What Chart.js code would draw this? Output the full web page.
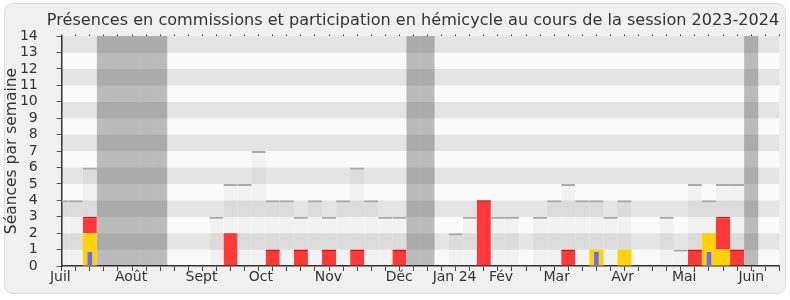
<!DOCTYPE html>
<html>
<head>
<meta charset="utf-8">
<script src="https://cdn.jsdelivr.net/npm/chart.js@4.4.0/dist/chart.umd.min.js"></script>
<style>
body{margin:0;background:#fff;}
#wrap{width:790px;height:300px;}
</style>
</head>
<body>
<div id="wrap"><canvas id="c" width="790" height="300"></canvas></div>
<script>
var titre = 'Présences en commissions et participation en hémicycle au cours de la session 2023-2024';
var titreY = 'Séances par semaine';

// une valeur par semaine, de début juillet 2023 (semaine 0) à fin juin 2024 (semaine 51)
var hemicycle  = [4,4,6,0,0,0,0,0,0,0,0,3,5,5,7,4,4,3,4,3,4,6,4,3,3,0,0,0,2,3,4,3,3,0,3,4,5,4,4,3,4,0,0,3,1,5,4,5,5,0,0,0];
var commission = [0,0,1,0,0,0,0,0,0,0,0,0,2,0,0,1,0,1,0,1,0,1,0,0,1,0,0,0,0,0,4,0,0,0,0,0,1,0,0,0,0,0,0,0,0,1,0,2,1,0,0,0];
var jaune      = [0,0,2,0,0,0,0,0,0,0,0,0,0,0,0,0,0,0,0,0,0,0,0,0,0,0,0,0,0,0,0,0,0,0,0,0,0,0,1,0,1,0,0,0,0,0,2,1,0,0,0,0];
var bleu       = [0,0,0.85,0,0,0,0,0,0,0,0,0,0,0,0,0,0,0,0,0,0,0,0,0,0,0,0,0,0,0,0,0,0,0,0,0,0,0,0.85,0,0,0,0,0,0,0,0.85,0,0,0,0,0];
var vacances   = [3,4,5,6,7,25,26,49];

var moisLabels = ['Juil','Août','Sept','Oct','Nov','Déc','Jan 24','Fév','Mar','Avr','Mai','Juin'];
var moisPos    = [-0.1,4.93,9.94,14.16,18.95,23.99,27.92,31.22,35.18,39.86,44.24,49.01];
var yMax = 14;

var police = "'DejaVu Sans', sans-serif";
var semaines = hemicycle.map(function(v, i){ return i; });

function points(arr){
  var out = [];
  arr.forEach(function(v, i){ if (v > 0) out.push({x: i, y: v}); });
  return out;
}
var ptsRouge = [];
commission.forEach(function(v, i){ if (v > 0) ptsRouge.push({x: i, y: [jaune[i], jaune[i] + v]}); });
var ptsVac = vacances.map(function(w){ return {x: w, y: yMax}; });

// fond : cadre arrondi + bandes horizontales
var fond = {
  id: 'fond',
  beforeDraw: function(chart){
    var ctx = chart.ctx, a = chart.chartArea, y = chart.scales.y;
    ctx.save();
    ctx.fillStyle = '#fff';
    ctx.fillRect(0, 0, chart.width, chart.height);
    ctx.beginPath();
    ctx.roundRect(4.5, 3.5, 781, 290, 8);
    ctx.fillStyle = '#f0f0f0';
    ctx.fill();
    ctx.strokeStyle = '#dedede';
    ctx.stroke();
    for (var k = 0; k < yMax; k++) {
      var y0 = y.getPixelForValue(k), y1 = y.getPixelForValue(k + 1);
      ctx.fillStyle = (k % 2) ? '#e4e4e4' : '#fafafa';
      ctx.fillRect(a.left, y1, a.right - a.left, y0 - y1);
    }
    ctx.restore();
  }
};

function tickSemaines(s){ s.ticks = semaines.map(function(v){ return {value: v}; }); }

var barre = {grouped: false, barPercentage: 1, categoryPercentage: 1, inflateAmount: 0, clip: 0};

new Chart(document.getElementById('c'), {
  type: 'bar',
  data: {
    datasets: [
      Object.assign({}, barre, {label: 'bleu', data: points(bleu), backgroundColor: '#6b6bff',
       barPercentage: 0.33, order: 0}),
      Object.assign({}, barre, {label: 'commission', data: ptsRouge, backgroundColor: 'rgb(255,56,56)',
       borderColor: 'rgb(238,0,0)', borderWidth: {top: 1.5, left: 0, right: 0, bottom: 0},
       borderSkipped: false, order: 1}),
      Object.assign({}, barre, {label: 'jaune', data: points(jaune), backgroundColor: 'rgb(255,210,10)', order: 2}),
      Object.assign({}, barre, {label: 'vacances', data: ptsVac, backgroundColor: 'rgba(0,0,0,0.25)', order: 3}),
      Object.assign({}, barre, {label: 'hemicycle', data: points(hemicycle), backgroundColor: 'rgba(0,0,0,0.03)',
       borderColor: '#aaaaaa', borderWidth: {top: 2, left: 0, right: 0, bottom: 0},
       borderSkipped: false, order: 4})
    ]
  },
  options: {
    responsive: false,
    animation: false,
    layout: {padding: {left: 0, right: 10.7, top: 0, bottom: 10.7}},
    plugins: {
      legend: {display: false},
      tooltip: {enabled: false},
      title: {display: true, text: titre, align: 'end', color: '#333',
              font: {family: police, size: 16.1, weight: 'normal'}, padding: {top: 11.4, bottom: 2.4}}
    },
    scales: {
      x: {type: 'linear', position: 'bottom', min: 0, max: 51, weight: 0, offset: false,
          afterBuildTicks: tickSemaines,
          ticks: {display: false, autoSkip: false},
          grid: {offset: false, drawOnChartArea: false, drawTicks: true, tickLength: 5, color: '#444'},
          border: {display: true, color: '#333', width: 1.5},
          afterFit: function(s){ s.height = 3.3; }},
      xm: {type: 'linear', position: 'bottom', min: 0, max: 51, weight: 1, offset: false,
           afterBuildTicks: function(s){ s.ticks = moisPos.map(function(v){ return {value: v}; }); },
           ticks: {autoSkip: false, maxRotation: 0, padding: 0, color: '#333',
                   font: {family: police, size: 14},
                   callback: function(v, i){ return moisLabels[i]; }},
           grid: {offset: false, display: false, drawTicks: false},
           border: {display: false},
           afterFit: function(s){ s.height = 20; }},
      x2: {type: 'linear', position: 'top', min: 0, max: 51, offset: false,
           afterBuildTicks: tickSemaines,
           ticks: {display: false, autoSkip: false},
           grid: {offset: false, drawOnChartArea: false, drawTicks: true, tickLength: 1.5, color: '#333'},
           border: {display: false},
           afterFit: function(s){ s.height = 3; }},
      y: {min: 0, max: yMax,
          ticks: {stepSize: 1, autoSkip: false, padding: 19, color: '#333', font: {family: police, size: 14, lineHeight: 1}},
          grid: {drawOnChartArea: false, drawTicks: true, tickLength: 5, color: '#555'},
          border: {color: '#333', width: 1.5},
          title: {display: true, text: titreY, color: '#333', font: {family: police, size: 15.5},
                  padding: {top: 3, bottom: 0}},
          afterFit: function(s){ s.width = 61.7; }}
    }
  },
  plugins: [fond]
});
</script>
</body>
</html>
